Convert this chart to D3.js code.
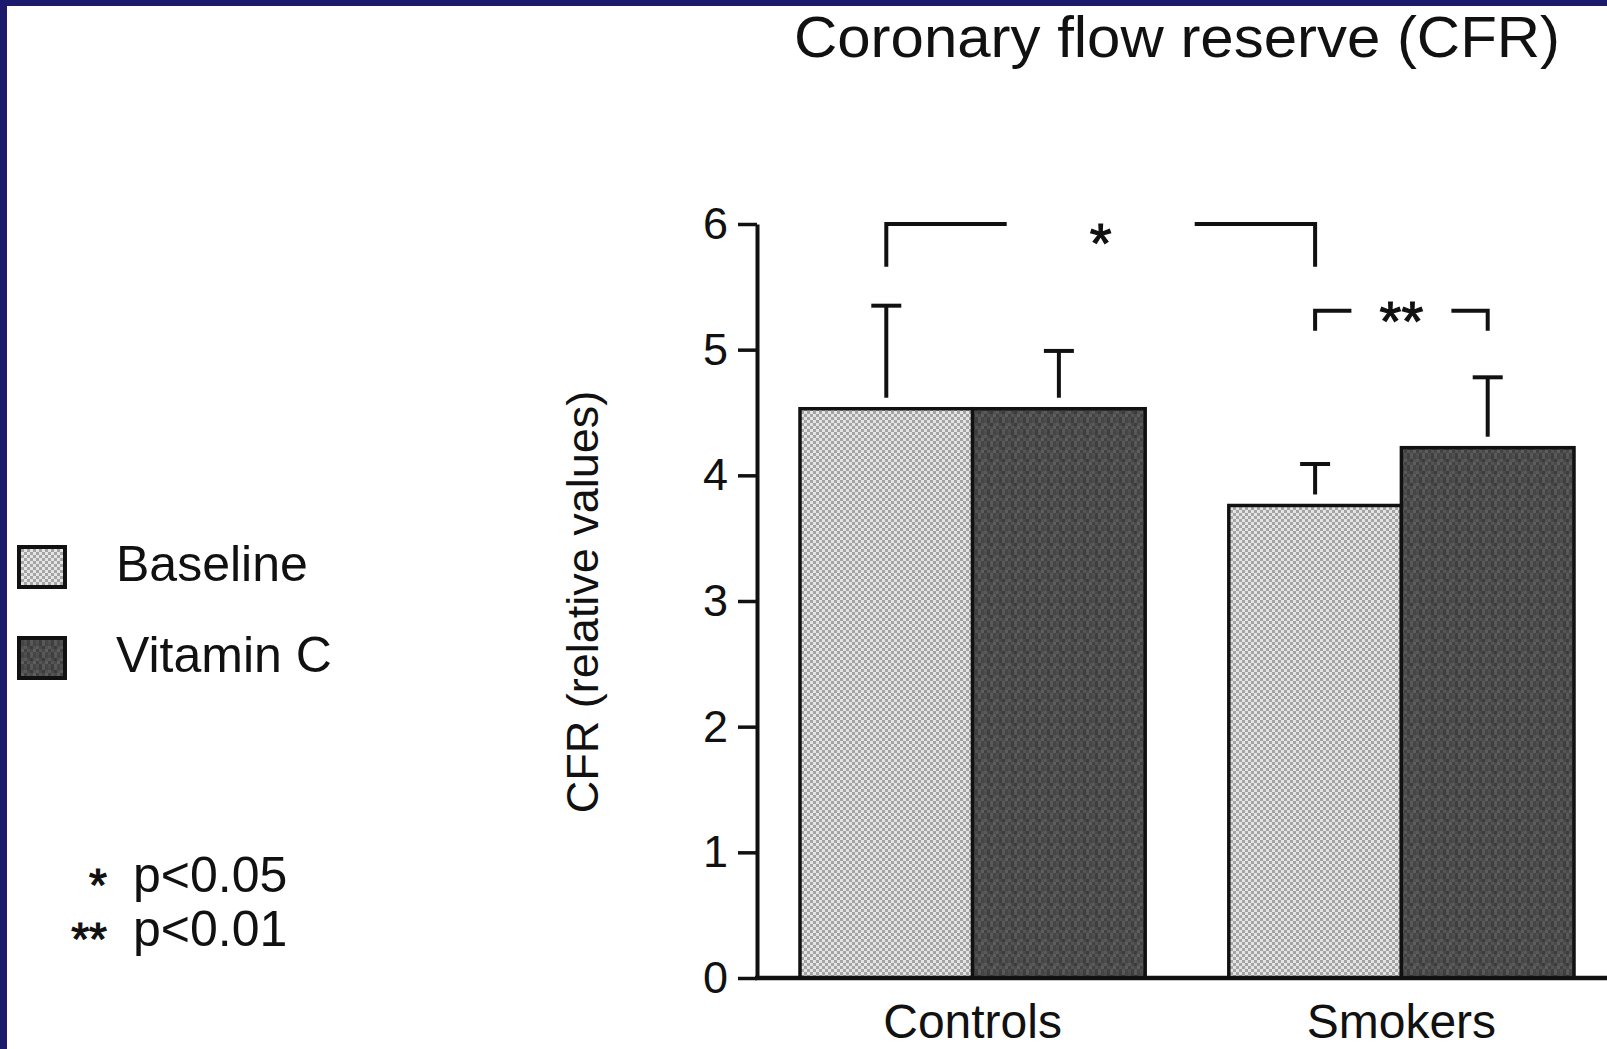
<!DOCTYPE html>
<html>
<head>
<meta charset="utf-8">
<script src="https://cdn.jsdelivr.net/npm/d3@7"></script>
<style>
  body { margin: 0; background: #fff; }
  svg { display: block; }
  text { font-family: "Liberation Sans", Arial, Helvetica, sans-serif; fill: #111; }
</style>
</head>
<body>
<div id="chart"></div>
<script>

// chart values
var groups = ["Controls", "Smokers"];
var seriesNames = ["Baseline", "Vitamin C"];
var baselineMean = [4.53, 3.76];
var vitaminCMean = [4.53, 4.22];
var baselineSD = [0.82, 0.33];
var vitaminCSD = [0.46, 0.56];
var yTicks = [0, 1, 2, 3, 4, 5, 6];
var sigStars = ["*", "**"];
var sigLabels = ["p<0.05", "p<0.01"];
// significance brackets: [group index, series index] at each end, level in CFR units
var bracketFrom = [[0, 0], [1, 0]];
var bracketTo = [[1, 0], [1, 1]];
var bracketLevel = [6.0, 5.31];
var bracketDrop = [0.34, 0.16];

var width = 1607, height = 1049;

var svg = d3.select("#chart").append("svg")
    .attr("width", width)
    .attr("height", height);

svg.append("rect").attr("width", width).attr("height", height).attr("fill", "#fff");

// navy slide frame
svg.append("rect").attr("x", 0).attr("y", 0).attr("width", width).attr("height", 6).attr("fill", "#1c1a6a");
svg.append("rect").attr("x", 0).attr("y", 0).attr("width", 7).attr("height", height).attr("fill", "#1c1a6a");

// fills
var defs = svg.append("defs");
var dots = defs.append("pattern")
    .attr("id", "dots")
    .attr("patternUnits", "userSpaceOnUse")
    .attr("width", 6).attr("height", 6);
dots.append("rect").attr("width", 6).attr("height", 6).attr("fill", "#e4e4e4");
dots.append("rect").attr("width", 3).attr("height", 3).attr("fill", "#a4a4a4");
dots.append("rect").attr("x", 3).attr("y", 3).attr("width", 3).attr("height", 3).attr("fill", "#a4a4a4");

var grainShades = ["#4c4c4c", "#3e3e3e", "#575757", "#454545",
                   "#5a5a5a", "#484848", "#3b3b3b", "#525252",
                   "#414141", "#555555", "#4a4a4a", "#5e5e5e",
                   "#505050", "#3f3f3f", "#595959", "#464646"];
var grain = defs.append("pattern")
    .attr("id", "grain")
    .attr("patternUnits", "userSpaceOnUse")
    .attr("width", 12).attr("height", 12);
grain.selectAll("rect")
    .data(grainShades)
  .enter().append("rect")
    .attr("x", function(d, i) { return (i % 4) * 3; })
    .attr("y", function(d, i) { return Math.floor(i / 4) * 3; })
    .attr("width", 3).attr("height", 3)
    .attr("fill", function(d) { return d; });

var fills = {"Baseline": "url(#dots)", "Vitamin C": "url(#grain)"};

// scales
var y = d3.scaleLinear().domain([0, 6]).range([978, 224]);
var x0 = d3.scaleBand().domain(groups).range([800, 1574]).paddingInner(0.195);
var x1 = d3.scaleBand().domain(seriesNames).range([0, x0.bandwidth()]);

var rows = [];
groups.forEach(function(g, i) {
  rows.push({group: g, series: "Baseline", mean: baselineMean[i], sd: baselineSD[i]});
  rows.push({group: g, series: "Vitamin C", mean: vitaminCMean[i], sd: vitaminCSD[i]});
});

function cx(d) { return x0(d.group) + x1(d.series) + x1.bandwidth() / 2; }

// title
svg.append("text")
    .attr("x", 794)
    .attr("y", 57)
    .attr("font-size", 57)
    .attr("textLength", 766)
    .attr("lengthAdjust", "spacingAndGlyphs")
    .text("Coronary flow reserve (CFR)");

// bars
svg.selectAll(".bar")
    .data(rows)
  .enter().append("rect")
    .attr("class", "bar")
    .attr("x", function(d) { return x0(d.group) + x1(d.series); })
    .attr("y", function(d) { return y(d.mean); })
    .attr("width", x1.bandwidth())
    .attr("height", function(d) { return y(0) - y(d.mean); })
    .attr("fill", function(d) { return fills[d.series]; })
    .attr("stroke", "#111")
    .attr("stroke-width", 3.5);

// error bars (stem stops short of the bar top, as in the figure)
var err = svg.selectAll(".err")
    .data(rows)
  .enter().append("g")
    .attr("class", "err")
    .attr("stroke", "#111")
    .attr("stroke-width", 4);
err.append("line")
    .attr("x1", cx).attr("x2", cx)
    .attr("y1", function(d) { return y(d.mean) - 11; })
    .attr("y2", function(d) { return y(d.mean + d.sd); });
err.append("line")
    .attr("x1", function(d) { return cx(d) - 15; })
    .attr("x2", function(d) { return cx(d) + 15; })
    .attr("y1", function(d) { return y(d.mean + d.sd); })
    .attr("y2", function(d) { return y(d.mean + d.sd); });

// y axis
var yAxis = svg.append("g")
    .attr("class", "y-axis")
    .attr("transform", "translate(757,0)")
    .call(d3.axisLeft(y).tickValues(yTicks).tickFormat(d3.format("d"))
      .tickSize(19).tickPadding(10).tickSizeOuter(0));
yAxis.attr("font-size", 45).attr("font-family", null);
yAxis.select(".domain").attr("stroke", "#111").attr("stroke-width", 4);
yAxis.selectAll(".tick line").attr("stroke", "#111").attr("stroke-width", 3.5);
yAxis.selectAll(".tick text").attr("fill", "#111");

// x axis baseline and category labels
svg.append("line")
    .attr("x1", 755).attr("x2", width)
    .attr("y1", y(0)).attr("y2", y(0))
    .attr("stroke", "#111")
    .attr("stroke-width", 4.5);

svg.selectAll(".cat")
    .data(groups)
  .enter().append("text")
    .attr("class", "cat")
    .attr("x", function(g) { return x0(g) + x0.bandwidth() / 2; })
    .attr("y", y(0) + 60)
    .attr("text-anchor", "middle")
    .attr("font-size", 48)
    .text(function(g) { return g; });

// y axis title
svg.append("text")
    .attr("transform", "translate(598,602) rotate(-90)")
    .attr("text-anchor", "middle")
    .attr("font-size", 45)
    .text("CFR (relative values)");

// significance brackets
var gapHalf = [94, 50];
var starDrop = [6, -3];
bracketFrom.forEach(function(f, i) {
  var t = bracketTo[i];
  var a = cx({group: groups[f[0]], series: seriesNames[f[1]]});
  var b = cx({group: groups[t[0]], series: seriesNames[t[1]]});
  var mid = (a + b) / 2;
  var yl = y(bracketLevel[i]);
  var yd = y(bracketLevel[i] - bracketDrop[i]);
  svg.append("path")
      .attr("d", "M" + a + "," + yd + "V" + yl + "H" + (mid - gapHalf[i]) +
                 "M" + (mid + gapHalf[i]) + "," + yl + "H" + b + "V" + yd)
      .attr("fill", "none")
      .attr("stroke", "#111")
      .attr("stroke-width", 4);
  svg.append("text")
      .attr("x", mid)
      .attr("y", yl + starDrop[i])
      .attr("dy", "0.58em")
      .attr("text-anchor", "middle")
      .attr("font-size", 56)
      .attr("stroke", "#111")
      .attr("stroke-width", 1.2)
      .text(sigStars[i]);
});

// legend
var legend = svg.selectAll(".legend")
    .data(seriesNames)
  .enter().append("g")
    .attr("class", "legend")
    .attr("transform", function(d, i) { return "translate(0," + (i * 91) + ")"; });
legend.append("rect")
    .attr("x", 19).attr("y", 547)
    .attr("width", 46).attr("height", 40)
    .attr("fill", function(d) { return fills[d]; })
    .attr("stroke", "#111")
    .attr("stroke-width", 4);
legend.append("text")
    .attr("x", 116).attr("y", 581)
    .attr("font-size", 50)
    .text(function(d) { return d; });

// p-value key
var key = svg.selectAll(".key")
    .data(sigLabels)
  .enter().append("g")
    .attr("class", "key")
    .attr("transform", function(d, i) { return "translate(0," + (i * 54) + ")"; });
key.append("text")
    .attr("x", 107).attr("y", 874)
    .attr("dy", "0.58em")
    .attr("text-anchor", "end")
    .attr("font-size", 46)
    .attr("stroke", "#111")
    .attr("stroke-width", 1.2)
    .text(function(d, i) { return sigStars[i]; });
key.append("text")
    .attr("x", 133).attr("y", 892)
    .attr("font-size", 50)
    .text(function(d) { return d; });

</script>
</body>
</html>
